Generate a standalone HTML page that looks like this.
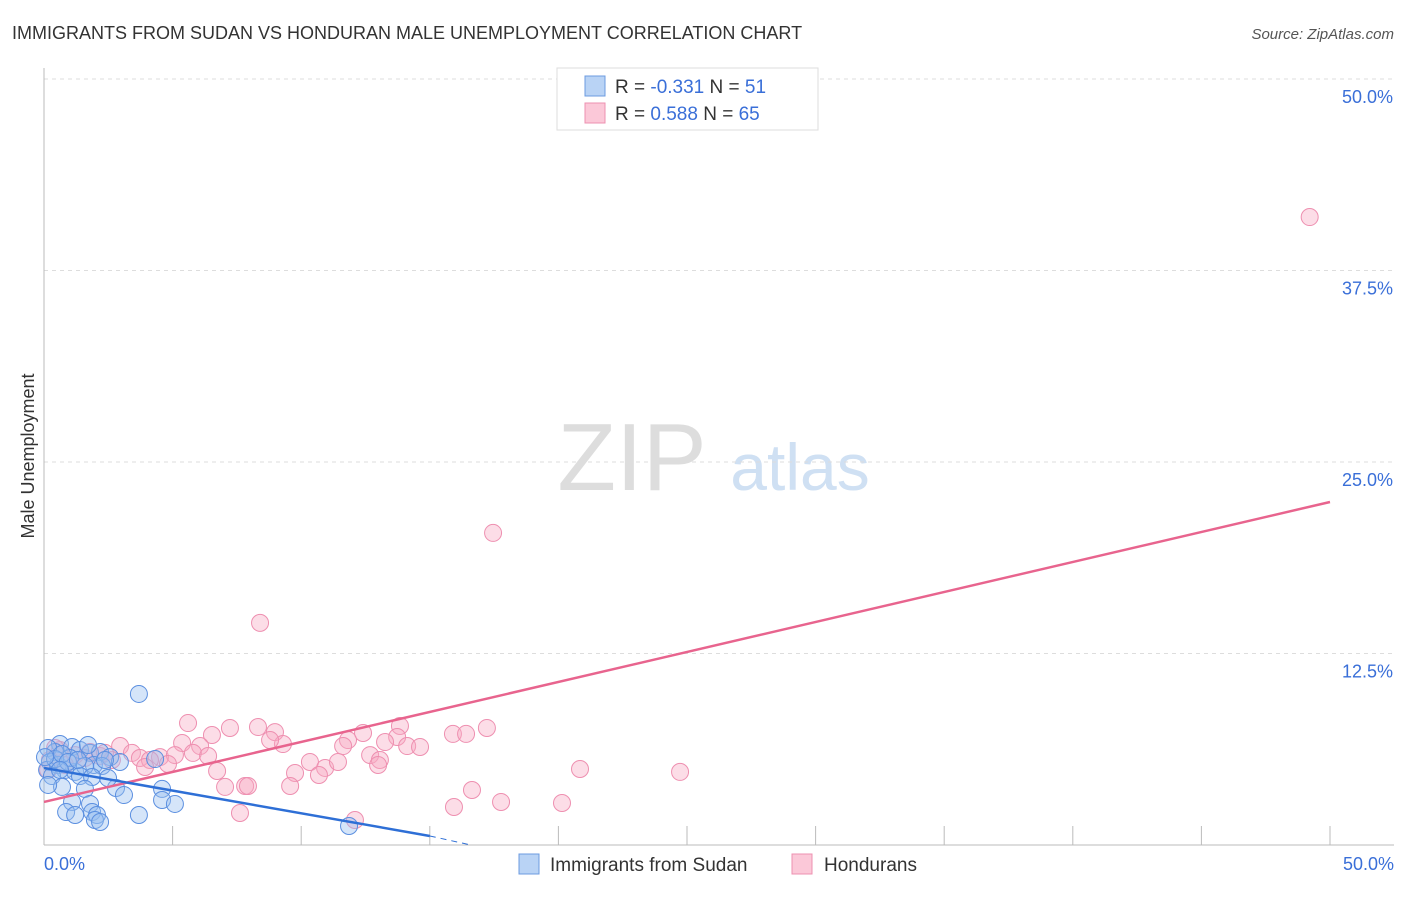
<!DOCTYPE html>
<html><head><meta charset="utf-8"><style>
body{margin:0;background:#fff;font-family:"Liberation Sans",sans-serif;}
svg text{font-family:"Liberation Sans",sans-serif;}
</style></head><body>
<svg id="chart" width="1406" height="892">
<text x="12" y="39" font-size="18" fill="#333">IMMIGRANTS FROM SUDAN VS HONDURAN MALE UNEMPLOYMENT CORRELATION CHART</text>
<text x="1394" y="39" font-size="15" fill="#555" font-style="italic" text-anchor="end">Source: ZipAtlas.com</text>
<text x="632" y="490" font-size="96" fill="#ddd" font-family="Liberation Serif" text-anchor="middle">ZIP</text>
<text x="800" y="490" font-size="66" fill="#cfe0f3" text-anchor="middle">atlas</text>
<g id="grid"></g><g id="axes"></g><g id="pts"></g><g id="lines"></g>
<text transform="translate(34,456) rotate(-90)" font-size="18" fill="#333" text-anchor="middle">Male Unemployment</text>
<text x="44" y="870" font-size="18" fill="#3a6fd8">0.0%</text>
<text x="1394" y="870" font-size="18" fill="#3a6fd8" text-anchor="end">50.0%</text>
<g>
<rect x="557" y="68" width="261" height="62" fill="#fff" stroke="#ddd"/>
<rect x="585" y="76" width="20" height="20" fill="#b9d3f5" stroke="#6c9be0"/>
<rect x="585" y="103" width="20" height="20" fill="#fbc8d8" stroke="#ee90b0"/>
<text x="615" y="93" font-size="19" fill="#333">R = <tspan fill="#3a6fd8">-0.331</tspan>   N = <tspan fill="#3a6fd8">51</tspan></text>
<text x="615" y="120" font-size="19" fill="#333">R =  <tspan fill="#3a6fd8">0.588</tspan>   N = <tspan fill="#3a6fd8">65</tspan></text>
</g>
<g>
<rect x="519" y="854" width="20" height="20" fill="#b9d3f5" stroke="#6c9be0"/>
<text x="550" y="871" font-size="19" fill="#333">Immigrants from Sudan</text>
<rect x="792" y="854" width="20" height="20" fill="#fbc8d8" stroke="#ee90b0"/>
<text x="824" y="871" font-size="19" fill="#333">Hondurans</text>
</g>
</svg>
<script>
const yTicks=[12.5,25,37.5,50];
const yTickLabels=["12.5%","25.0%","37.5%","50.0%"];
const xTicks=[5,10,15,20,25,30,35,40,45,50];
const hondX=[49.21,17.46,8.4,5.6,7.23,8.32,8.98,13.84,17.22,15.9,16.41,12.404,11.82,13.73,13.26,5.37,6.53,6.07,9.29,14.12,11.63,2.96,3.42,4.51,5.09,5.79,6.38,3.73,4.12,0.62,1.21,1.59,2.18,2.64,4.82,10.34,10.93,11.43,12.68,13.06,12.99,6.73,9.76,10.69,20.84,24.73,7.04,7.82,7.93,9.57,16.64,15.94,17.77,20.14,7.62,12.09,0.23,0.43,0.82,1.79,3.93,0.16,2.37,8.79,14.62];
const hondY=[40.99,20.37,14.5,7.96,7.64,7.7,7.37,7.77,7.64,7.25,7.25,7.31,6.85,7.05,6.72,6.66,7.18,6.46,6.59,6.46,6.46,6.46,6.01,5.74,5.87,6.01,5.81,5.68,5.55,6.2,5.87,5.68,5.81,5.55,5.29,5.42,5.03,5.42,5.87,5.55,5.22,4.83,4.7,4.57,4.96,4.77,3.79,3.85,3.85,3.85,3.59,2.48,2.81,2.74,2.09,1.63,5.55,6.33,5.22,6.07,5.09,4.9,6.01,6.85,6.40];
const sudX=[3.69,0.62,1.09,1.4,0.43,0.16,1.79,2.18,2.57,0.23,0.54,0.12,0.82,1.21,1.94,2.26,2.95,4.32,1.01,1.59,0.31,1.4,1.87,0.7,1.59,2.8,4.59,3.11,1.09,1.79,4.59,5.09,0.86,1.21,1.87,2.06,1.98,2.18,3.69,11.86,0.43,0.7,0.04,0.93,1.32,1.71,2.37,0.16,2.49,0.62];
const sudY=[9.86,6.59,6.4,6.2,6.07,6.33,6.01,6.07,5.74,5.42,5.22,4.9,4.9,4.77,5.22,5.16,5.42,5.61,5.68,5.16,4.5,4.5,4.44,3.79,3.66,3.72,3.66,3.26,2.81,2.68,2.94,2.68,2.15,1.96,2.15,1.96,1.63,1.5,1.96,1.24,5.61,5.94,5.74,5.42,5.55,6.53,5.55,3.92,4.37,4.9];
const hondTrend=[0,2.81,50,22.39];
const sudTrend=[0,5.03,15,0.59,16.6,0];
const NS="http://www.w3.org/2000/svg";
function X(v){return 44+v*25.72;}
function Y(v){return 845-v*15.32;}
function mk(parent,tag,attrs){const e=document.createElementNS(NS,tag);for(const k in attrs)e.setAttribute(k,attrs[k]);document.getElementById(parent).appendChild(e);return e;}
yTicks.forEach((t,i)=>{
 let l=mk('grid','line',{x1:44,x2:1394,y1:Y(t),y2:Y(t),stroke:'#ddd','stroke-dasharray':'4,4'});
 
 
 let tx=mk('grid','text',{x:1393,y:Y(t)+24,'font-size':18,fill:'#3a6fd8','text-anchor':'end'});
 tx.textContent=yTickLabels[i];
 
 
});
let ax=mk('axes','line',{x1:44,x2:44,y1:68,y2:845,stroke:'#bbb'});


let bx=mk('axes','line',{x1:44,x2:1394,y1:845,y2:845,stroke:'#bbb'});


xTicks.forEach(t=>{
 let l=mk('axes','line',{x1:X(t),x2:X(t),y1:826,y2:845,stroke:'#bbb'});
 
 
});
hondX.forEach((v,i)=>{
 let c=mk('pts','circle',{cx:X(v),cy:Y(hondY[i]),r:8.5,fill:'rgba(248,170,195,0.4)',stroke:'#ee8fb0','stroke-width':1});
 
 
});
sudX.forEach((v,i)=>{
 let c=mk('pts','circle',{cx:X(v),cy:Y(sudY[i]),r:8.5,fill:'rgba(150,190,240,0.4)',stroke:'#5b8fe0','stroke-width':1});
 
 
});
let hl=mk('lines','line',{x1:X(hondTrend[0]),y1:Y(hondTrend[1]),x2:X(hondTrend[2]),y2:Y(hondTrend[3]),stroke:'#e8648e','stroke-width':2.5});


let sl=mk('lines','line',{x1:X(sudTrend[0]),y1:Y(sudTrend[1]),x2:X(sudTrend[2]),y2:Y(sudTrend[3]),stroke:'#2e6fd6','stroke-width':2.5});


let sd=mk('lines','line',{x1:X(sudTrend[2]),y1:Y(sudTrend[3]),x2:X(sudTrend[4]),y2:Y(sudTrend[5]),stroke:'#2e6fd6','stroke-width':1,'stroke-dasharray':'6,5'});


</script>
</body></html>
